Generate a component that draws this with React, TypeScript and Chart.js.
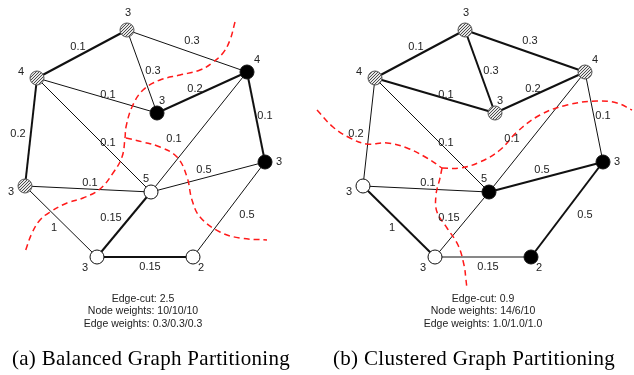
import React, { useEffect, useRef } from "react";
import { Chart, registerables } from "chart.js";

Chart.register(...registerables);

// ---- Graph data (panel a coordinates; panel b is shifted) ----
const NODE_X = [127, 37, 247, 157, 25, 151, 265, 97, 193];
const NODE_Y = [30, 78, 72, 113, 186, 192, 162, 257, 257];
const NODE_WEIGHTS = ["3", "4", "4", "3", "3", "5", "3", "3", "2"];
const NODE_LABEL_X = [128, 21, 257, 162, 11, 146, 279, 85, 201];
const NODE_LABEL_Y = [13, 72, 60, 101, 192, 179, 162, 268, 268];
const PANEL_OFFSETS = [0, 338];
const FILL_A = ["hatch", "hatch", "black", "black", "hatch", "white", "black", "white", "white"];
const FILL_B = ["hatch", "hatch", "hatch", "hatch", "white", "black", "black", "white", "black"];

const EDGE_FROM = [0, 0, 0, 1, 3, 1, 1, 2, 2, 4, 5, 4, 5, 7, 8];
const EDGE_TO = [1, 2, 3, 3, 2, 4, 5, 5, 6, 5, 6, 7, 7, 8, 6];
const EDGE_WEIGHTS = ["0.1", "0.3", "0.3", "0.1", "0.2", "0.2", "0.1", "0.1", "0.1", "0.1", "0.5", "1", "0.15", "0.15", "0.5"];
const EDGE_LABEL_X = [78, 192, 153, 108, 195, 18, 108, 174, 265, 90, 204, 54, 111, 150, 247];
const EDGE_LABEL_Y = [47, 41, 71, 95, 89, 134, 143, 139, 116, 183, 170, 228, 218, 267, 215];
const THICK_A = [1, 0, 0, 0, 1, 1, 0, 0, 1, 0, 0, 0, 1, 1, 0];
const THICK_B = [1, 1, 1, 1, 1, 0, 0, 0, 0, 0, 1, 1, 0, 0, 1];

// ---- Partition cut curves (absolute coordinates) ----
const CUT_A_MAIN_X = [235, 230, 223, 212, 200, 180, 160, 143, 132, 126, 125, 122, 113, 100, 83, 67, 50, 40, 32, 25];
const CUT_A_MAIN_Y = [22, 40, 53, 63, 70, 75, 80, 90, 107, 127, 138, 157, 173, 189, 198, 203, 212, 220, 233, 252];
const CUT_A_BRANCH_X = [126, 143, 160, 177, 187, 192, 200, 220, 240, 267];
const CUT_A_BRANCH_Y = [138, 142, 147, 157, 177, 200, 217, 232, 238, 240];
const CUT_B_LEFT_X = [317, 333, 350, 367, 387, 407, 427, 442];
const CUT_B_LEFT_Y = [110, 127, 138, 144, 143, 148, 158, 168];
const CUT_B_RIGHT_X = [442, 460, 480, 500, 517, 540, 567, 597, 617, 632];
const CUT_B_RIGHT_Y = [168, 168, 162, 150, 132, 115, 105, 101, 103, 110];
const CUT_B_DOWN_X = [442, 440, 436, 437, 447, 458, 464, 466, 467];
const CUT_B_DOWN_Y = [168, 178, 195, 212, 228, 245, 265, 280, 289];

// ---- Text ----
const INFO_A = ["Edge-cut: 2.5", "Node weights: 10/10/10", "Edge weights: 0.3/0.3/0.3"];
const INFO_B = ["Edge-cut: 0.9", "Node weights: 14/6/10", "Edge weights: 1.0/1.0/1.0"];
const INFO_X = [143, 483];
const INFO_Y = [299, 311, 324];
const CAPTIONS = ["(a) Balanced Graph Partitioning", "(b) Clustered Graph Partitioning"];
const CAPTION_X = [151, 474];
const CAPTION_Y = 359;

function makeHatch(): CanvasPattern | string {
  const c = document.createElement("canvas");
  const s = 3;
  c.width = s;
  c.height = s;
  const g = c.getContext("2d");
  if (!g) return "#ccc";
  g.fillStyle = "#e6e6e6";
  g.fillRect(0, 0, s, s);
  g.strokeStyle = "#3a3a3a";
  g.lineWidth = 0.9;
  g.beginPath();
  g.moveTo(0, s);
  g.lineTo(s, 0);
  g.moveTo(-1, 1);
  g.lineTo(1, -1);
  g.moveTo(s - 1, s + 1);
  g.lineTo(s + 1, s - 1);
  g.stroke();
  const p = g.createPattern(c, "repeat");
  return p || "#ccc";
}

function pts(xs: number[], ys: number[]) {
  return xs.map((x, i) => ({ x, y: ys[i] }));
}

export default function App() {
  const ref = useRef<HTMLCanvasElement | null>(null);

  useEffect(() => {
    if (!ref.current) return;
    const hatch = makeHatch();
    const fillOf = (f: string) => (f === "hatch" ? hatch : f === "black" ? "#000" : "#fff");
    const borderOf = (f: string) => (f === "hatch" ? "#555" : "#111");

    const datasets: any[] = [];

    // Nodes (on top)
    [FILL_A, FILL_B].forEach((fills, p) => {
      datasets.push({
        type: "scatter",
        data: NODE_X.map((x, i) => ({ x: x + PANEL_OFFSETS[p], y: NODE_Y[i] })),
        pointRadius: 7,
        pointBackgroundColor: fills.map(fillOf),
        pointBorderColor: fills.map(borderOf),
        pointBorderWidth: 1,
        showLine: false,
        order: 0,
        clip: false,
      });
    });

    // Cut curves
    const curves = [
      [CUT_A_MAIN_X, CUT_A_MAIN_Y],
      [CUT_A_BRANCH_X, CUT_A_BRANCH_Y],
      [CUT_B_LEFT_X, CUT_B_LEFT_Y],
      [CUT_B_RIGHT_X, CUT_B_RIGHT_Y],
      [CUT_B_DOWN_X, CUT_B_DOWN_Y],
    ];
    curves.forEach(([xs, ys]) => {
      datasets.push({
        type: "scatter",
        data: pts(xs, ys),
        showLine: true,
        tension: 0.4,
        borderColor: "#ff1a1a",
        borderWidth: 1.5,
        borderDash: [6, 4],
        pointRadius: 0,
        order: 1,
        clip: false,
      });
    });

    // Edges
    [THICK_A, THICK_B].forEach((thick, p) => {
      EDGE_FROM.forEach((a, i) => {
        const b = EDGE_TO[i];
        datasets.push({
          type: "scatter",
          data: [
            { x: NODE_X[a] + PANEL_OFFSETS[p], y: NODE_Y[a] },
            { x: NODE_X[b] + PANEL_OFFSETS[p], y: NODE_Y[b] },
          ],
          showLine: true,
          tension: 0,
          borderColor: "#111",
          borderWidth: thick[i] ? 2 : 1,
          pointRadius: 0,
          order: 2,
          clip: false,
        });
      });
    });

    const textPlugin = {
      id: "graphText",
      afterDatasetsDraw(chart: any) {
        const ctx = chart.ctx;
        const sx = chart.scales.x;
        const sy = chart.scales.y;
        ctx.save();
        ctx.textAlign = "center";
        ctx.textBaseline = "middle";
        ctx.fillStyle = "#222";
        ctx.font = "11px 'Liberation Sans', Arial, sans-serif";
        PANEL_OFFSETS.forEach((off) => {
          EDGE_WEIGHTS.forEach((w, i) => {
            ctx.fillText(w, sx.getPixelForValue(EDGE_LABEL_X[i] + off), sy.getPixelForValue(EDGE_LABEL_Y[i]));
          });
          NODE_WEIGHTS.forEach((w, i) => {
            ctx.fillText(w, sx.getPixelForValue(NODE_LABEL_X[i] + off), sy.getPixelForValue(NODE_LABEL_Y[i]));
          });
        });
        ctx.font = "10.5px 'Liberation Sans', Arial, sans-serif";
        [INFO_A, INFO_B].forEach((lines, p) => {
          lines.forEach((t, j) => {
            ctx.fillText(t, sx.getPixelForValue(INFO_X[p]), sy.getPixelForValue(INFO_Y[j]));
          });
        });
        ctx.fillStyle = "#000";
        ctx.font = "21px 'Liberation Serif', 'Times New Roman', serif";
        try {
          (ctx as any).letterSpacing = "0.3px";
        } catch (e) {}
        CAPTIONS.forEach((t, p) => {
          ctx.fillText(t, sx.getPixelForValue(CAPTION_X[p]), sy.getPixelForValue(CAPTION_Y));
        });
        ctx.restore();
      },
    };

    const chart = new Chart(ref.current, {
      type: "scatter",
      data: { datasets },
      options: {
        animation: false,
        responsive: false,
        events: [],
        layout: { padding: 0, autoPadding: false },
        plugins: { legend: { display: false }, tooltip: { enabled: false } },
        scales: {
          x: { type: "linear", min: 0, max: 634, display: false },
          y: { type: "linear", min: 0, max: 375, reverse: true, display: false },
        },
      },
      plugins: [textPlugin],
    } as any);

    return () => chart.destroy();
  }, []);

  return (
    <div style={{ position: "fixed", left: 0, top: 0, width: 634, height: 375, background: "#fff" }}>
      <canvas ref={ref} width={634} height={375} style={{ display: "block", width: 634, height: 375 }} />
    </div>
  );
}
